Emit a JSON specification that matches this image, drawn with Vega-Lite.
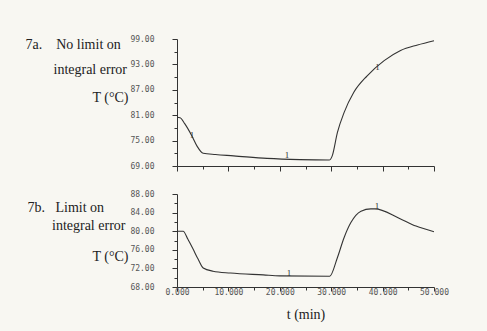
{
  "$schema": "https://vega.github.io/schema/vega-lite/v6.json",
  "background": "#f8f7f2",
  "padding": {"left": 25, "top": 35, "right": 41, "bottom": 14},
  "spacing": 18,
  "datasets": {
    "top": [
      {"t": 0, "T": 80.5}, {"t": 0.6, "T": 80.4}, {"t": 1.5, "T": 79.0}, {"t": 2.9, "T": 76.1},
      {"t": 3.9, "T": 73.7}, {"t": 5.1, "T": 72.0}, {"t": 7.5, "T": 71.7}, {"t": 11.0, "T": 71.4},
      {"t": 17.5, "T": 70.8}, {"t": 23.9, "T": 70.5}, {"t": 29.6, "T": 70.4}, {"t": 30.2, "T": 71.4},
      {"t": 31.2, "T": 76.9}, {"t": 32.5, "T": 81.6}, {"t": 34.4, "T": 86.4}, {"t": 37.0, "T": 90.3},
      {"t": 40.3, "T": 93.9}, {"t": 43.5, "T": 96.3}, {"t": 46.8, "T": 97.6}, {"t": 50.0, "T": 98.6}
    ],
    "bot": [
      {"t": 0, "T": 80.0}, {"t": 1.2, "T": 80.0}, {"t": 2.1, "T": 78.3}, {"t": 3.1, "T": 76.2},
      {"t": 4.1, "T": 74.0}, {"t": 5.1, "T": 72.1}, {"t": 7.0, "T": 71.4}, {"t": 10.4, "T": 71.0},
      {"t": 16.8, "T": 70.6}, {"t": 20.0, "T": 70.4}, {"t": 29.7, "T": 70.3}, {"t": 31.2, "T": 74.3},
      {"t": 32.5, "T": 78.6}, {"t": 33.8, "T": 81.8}, {"t": 35.8, "T": 84.3}, {"t": 37.7, "T": 84.8},
      {"t": 38.5, "T": 84.8}, {"t": 43.2, "T": 82.8}, {"t": 46.5, "T": 81.1}, {"t": 50.0, "T": 79.9}
    ],
    "labtop": [
      {"t": 2.9, "T": 76.3, "l": "1"}, {"t": 21.4, "T": 71.6, "l": "1"}, {"t": 39.0, "T": 92.5, "l": "1"}
    ],
    "labbot": [
      {"t": 21.8, "T": 71.0, "l": "1"}, {"t": 38.9, "T": 85.5, "l": "1"}
    ]
  },
  "config": {
    "view": {"stroke": null},
    "axis": {
      "grid": false,
      "domainColor": "#333",
      "tickColor": "#333",
      "domainWidth": 1,
      "tickWidth": 1,
      "labelFont": "DejaVu Sans Mono",
      "labelFontSize": 8,
      "labelColor": "#555",
      "labelOverlap": false,
      "labelFlush": false,
      "titleFont": "Liberation Serif",
      "titleFontWeight": "normal",
      "titleFontSize": 14,
      "titleColor": "#222"
    }
  },
  "vconcat": [
    {
      "width": 257,
      "height": 127,
      "resolve": {"axis": {"x": "independent", "y": "independent"}},
      "layer": [
        {
          "data": {"name": "top"},
          "mark": {"type": "line", "color": "#333", "strokeWidth": 1.1, "interpolate": "monotone"},
          "encoding": {
            "x": {"field": "t", "type": "quantitative",
              "scale": {"domain": [0, 50], "nice": false},
              "axis": {"orient": "bottom", "values": [0, 10, 20, 30, 40, 50], "labels": false, "title": null,
                "tickSize": 5}},
            "y": {"field": "T", "type": "quantitative",
              "scale": {"domain": [69, 99], "nice": false, "zero": false},
              "axis": {"orient": "left", "values": [69, 75, 81, 87, 93, 99],
                "format": ".2f", "labelOverlap": false,
                "tickSize": 5,
                "labelPadding": 18,
                "title": "T (°C)",
                "titleAngle": 0, "titleAlign": "right", "titleBaseline": "top",
                "titleX": -49, "titleY": 51}}
          }
        },
        {
          "data": {"name": "labtop"},
          "mark": {"type": "text", "font": "Liberation Serif", "fontSize": 9, "fill": "#333"},
          "encoding": {
            "x": {"field": "t", "type": "quantitative",
              "axis": {"orient": "bottom", "values": [5, 15, 25, 35, 45], "labels": false, "domain": false, "tickSize": 3, "title": null}},
            "y": {"field": "T", "type": "quantitative",
              "axis": {"orient": "left", "values": [72, 78, 84, 90, 96], "labels": false, "domain": false, "tickSize": 3,
                "title": ["7a.\u00a0\u00a0\u00a0\u00a0No limit on", "\u200b\u00a0\u00a0\u00a0\u00a0\u00a0\u00a0\u00a0\u00a0integral error"],
                "titleAngle": 0, "titleAlign": "left", "titleBaseline": "top",
                "titleX": -152, "titleY": -2, "titleLineHeight": 25}},
            "text": {"field": "l"}
          }
        }
      ]
    },
    {
      "width": 257,
      "height": 93,
      "resolve": {"axis": {"x": "independent", "y": "independent"}},
      "layer": [
        {
          "data": {"name": "bot"},
          "mark": {"type": "line", "color": "#333", "strokeWidth": 1.1, "interpolate": "monotone"},
          "encoding": {
            "x": {"field": "t", "type": "quantitative",
              "scale": {"domain": [0, 50], "nice": false},
              "axis": {"orient": "bottom", "values": [0, 10, 20, 30, 40, 50],
                "format": ".3f", "labelOverlap": false,
                "tickSize": 4,
                "labelPadding": -3,
                "title": "t (min)", "titlePadding": 11}},
            "y": {"field": "T", "type": "quantitative",
              "scale": {"domain": [68, 88], "nice": false, "zero": false},
              "axis": {"orient": "left", "values": [68, 72, 76, 80, 84, 88],
                "format": ".2f", "labelOverlap": false,
                "tickSize": 5,
                "labelPadding": 18,
                "title": "T (°C)",
                "titleAngle": 0, "titleAlign": "right", "titleBaseline": "top",
                "titleX": -49, "titleY": 55}}
          }
        },
        {
          "data": {"name": "labbot"},
          "mark": {"type": "text", "font": "Liberation Serif", "fontSize": 9, "fill": "#333"},
          "encoding": {
            "x": {"field": "t", "type": "quantitative",
              "axis": {"orient": "bottom", "values": [5, 15, 25, 35, 45], "labels": false, "domain": false, "tickSize": 3, "title": null}},
            "y": {"field": "T", "type": "quantitative",
              "axis": {"orient": "left", "values": [70, 74, 78, 82, 86], "labels": false, "domain": false, "tickSize": 3,
                "title": ["7b.\u00a0\u00a0\u00a0Limit on", "\u200b\u00a0\u00a0\u00a0\u00a0\u00a0\u00a0\u00a0integral error"],
                "titleAngle": 0, "titleAlign": "left", "titleBaseline": "top",
                "titleX": -150, "titleY": 6, "titleLineHeight": 18}},
            "text": {"field": "l"}
          }
        }
      ]
    }
  ]
}
